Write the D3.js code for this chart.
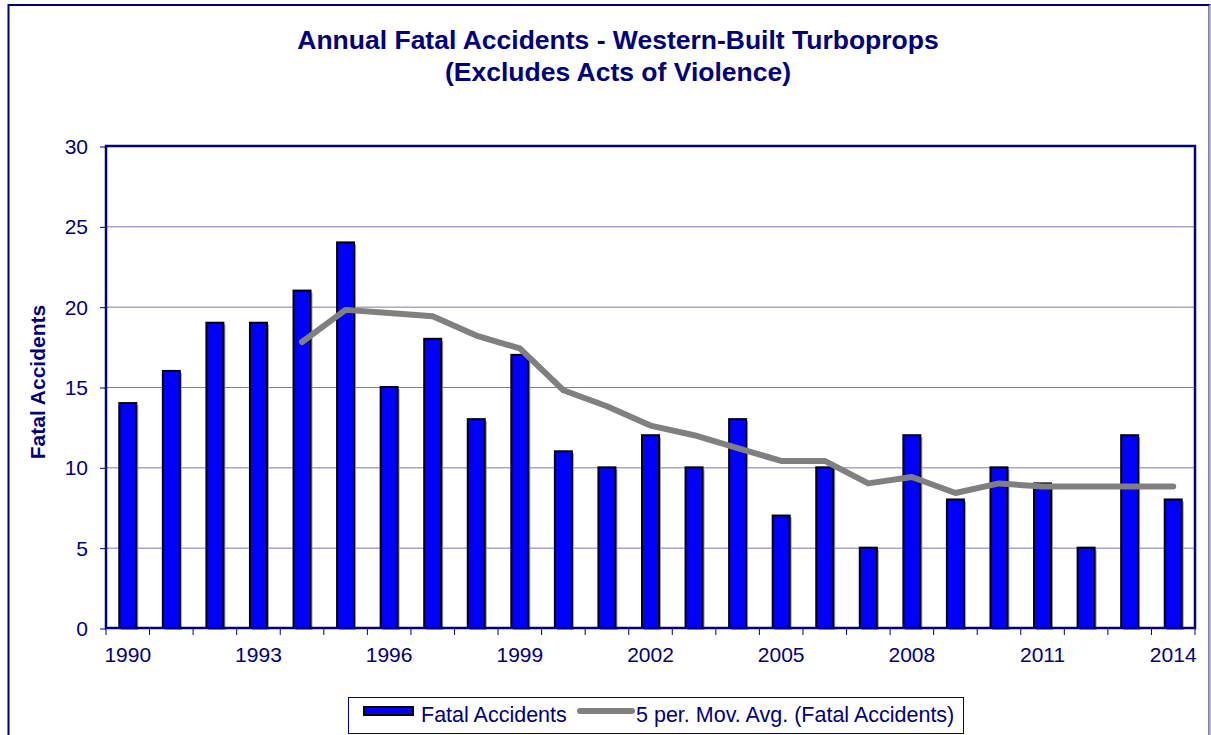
<!DOCTYPE html>
<html>
<head>
<meta charset="utf-8">
<script src="https://cdn.jsdelivr.net/npm/d3@7"></script>
<style>
  body { margin: 0; background: #fff; }
  text { font-family: Arial, "Liberation Sans", sans-serif; fill: #000080; }
</style>
</head>
<body>
<svg id="chart"></svg>
<script>
// chart data
const years = [1990, 1991, 1992, 1993, 1994, 1995, 1996, 1997, 1998, 1999, 2000, 2001, 2002,
    2003, 2004, 2005, 2006, 2007, 2008, 2009, 2010, 2011, 2012, 2013, 2014];
const fatalAccidents = [14, 16, 19, 19, 21, 24, 15, 18, 13, 17, 11, 10, 12,
    10, 13, 7, 10, 5, 12, 8, 10, 9, 5, 12, 8];
// 5 period moving average, starts at 1994
const movAvgYears = [1994, 1995, 1996, 1997, 1998, 1999, 2000, 2001, 2002, 2003, 2004,
    2005, 2006, 2007, 2008, 2009, 2010, 2011, 2012, 2013, 2014];
const movAvg = [17.8, 19.8, 19.6, 19.4, 18.2, 17.4, 14.8, 13.8, 12.6, 12.0, 11.2,
    10.4, 10.4, 9.0, 9.4, 8.4, 9.0, 8.8, 8.8, 8.8, 8.8];
const yTicks = [0, 5, 10, 15, 20, 25, 30];
const xLabelYears = [1990, 1993, 1996, 1999, 2002, 2005, 2008, 2011, 2014];

const width = 1211;
const height = 735;
const navy = "#000080";

const plot = { left: 106, right: 1195, top: 146, bottom: 628 };

const svg = d3.select("#chart").attr("width", width).attr("height", height);

// outer chart border
svg.append("rect")
    .attr("x", 8.5).attr("y", 5)
    .attr("width", 1201).attr("height", 740)
    .attr("fill", "#fff")
    .attr("stroke", navy)
    .attr("stroke-width", 2);
svg.append("line")
    .attr("x1", 1210).attr("x2", 1210).attr("y1", 5).attr("y2", height)
    .attr("stroke", "#d0d4e0").attr("stroke-width", 1.5);

const x = d3.scaleBand()
    .domain(years)
    .range([plot.left, plot.right])
    .paddingInner(0)
    .paddingOuter(0);

const y = d3.scaleLinear()
    .domain([0, 30])
    .range([plot.bottom, plot.top]);

// gridlines
svg.append("g").attr("class", "grid")
    .selectAll("line")
    .data(yTicks.filter(function (d) { return d > 0 && d < 30; }))
    .enter()
    .append("line")
    .attr("x1", plot.left).attr("x2", plot.right)
    .attr("y1", function (d) { return y(d) + 0.5; })
    .attr("y2", function (d) { return y(d) + 0.5; })
    .attr("stroke", "#7777cc")
    .attr("stroke-width", 1);

// y axis
const yAxis = svg.append("g")
    .attr("transform", "translate(" + plot.left + ",0)")
    .call(d3.axisLeft(y).tickValues(yTicks).tickSize(6).tickPadding(12));
yAxis.select(".domain").remove();
yAxis.selectAll(".tick line").attr("stroke", navy).attr("stroke-width", 1)
    .attr("transform", "translate(0,0.5)");
yAxis.selectAll(".tick text")
    .style("font-size", "21px")
    .style("font-family", "Arial, 'Liberation Sans', sans-serif")
    .attr("fill", navy)
    .attr("dy", "0.36em");

// x axis: ticks on category boundaries
const bounds = years.map(function (d) { return x(d); }).concat([plot.right]);
svg.append("g").attr("class", "xticks")
    .selectAll("line")
    .data(bounds)
    .enter()
    .append("line")
    .attr("x1", function (d) { return d; })
    .attr("x2", function (d) { return d; })
    .attr("y1", plot.bottom)
    .attr("y2", plot.bottom + 7)
    .attr("stroke", navy)
    .attr("stroke-width", 1);

svg.append("g").attr("class", "xlabels")
    .selectAll("text")
    .data(xLabelYears)
    .enter()
    .append("text")
    .attr("x", function (d) { return x(d) + x.bandwidth() / 2; })
    .attr("y", 662)
    .attr("text-anchor", "middle")
    .style("font-size", "21px")
    .text(function (d) { return d; });

// bars (with a small grey shadow)
const barW = 17;
const bars = svg.append("g").attr("class", "bars");
bars.selectAll("rect.shadow")
    .data(fatalAccidents)
    .enter()
    .append("rect")
    .attr("class", "shadow")
    .attr("x", function (d, i) { return x(years[i]) + x.bandwidth() / 2 - barW / 2 + 2; })
    .attr("y", function (d) { return y(d) + 2; })
    .attr("width", barW)
    .attr("height", function (d) { return y(0) - y(d); })
    .attr("fill", "#a0a0a0");
bars.selectAll("rect.bar")
    .data(fatalAccidents)
    .enter()
    .append("rect")
    .attr("class", "bar")
    .attr("x", function (d, i) { return x(years[i]) + x.bandwidth() / 2 - barW / 2; })
    .attr("y", function (d) { return y(d); })
    .attr("width", barW)
    .attr("height", function (d) { return y(0) - y(d); })
    .attr("fill", "#0000ff")
    .attr("stroke", "#000")
    .attr("stroke-width", 2);

// plot area frame
svg.append("rect")
    .attr("x", plot.left).attr("y", plot.top)
    .attr("width", plot.right - plot.left)
    .attr("height", plot.bottom - plot.top)
    .attr("fill", "none")
    .attr("stroke", navy)
    .attr("stroke-width", 2.5);

// moving average line
const line = d3.line()
    .x(function (d, i) { return x(movAvgYears[i]) + x.bandwidth() / 2; })
    .y(function (d) { return y(d); });

svg.append("path")
    .datum(movAvg)
    .attr("fill", "none")
    .attr("stroke", "#808080")
    .attr("stroke-width", 6)
    .attr("stroke-linecap", "round")
    .attr("stroke-linejoin", "round")
    .attr("d", line);

// title
const title = svg.append("text")
    .attr("x", 618)
    .attr("text-anchor", "middle")
    .style("font-size", "26.5px")
    .style("font-weight", "bold");
title.append("tspan").attr("x", 618).attr("y", 49)
    .text("Annual Fatal Accidents - Western-Built Turboprops");
title.append("tspan").attr("x", 618).attr("y", 81)
    .text("(Excludes Acts of Violence)");

// y axis title
svg.append("text")
    .attr("transform", "translate(45,382) rotate(-90)")
    .attr("text-anchor", "middle")
    .style("font-size", "21px")
    .style("font-weight", "bold")
    .text("Fatal Accidents");

// legend
const legend = svg.append("g").attr("class", "legend");
legend.append("rect")
    .attr("x", 348.5).attr("y", 697.5)
    .attr("width", 615).attr("height", 36)
    .attr("fill", "#fff")
    .attr("stroke", navy)
    .attr("stroke-width", 1);
legend.append("rect")
    .attr("x", 364).attr("y", 707)
    .attr("width", 49).attr("height", 8)
    .attr("fill", "#0000ff")
    .attr("stroke", "#000")
    .attr("stroke-width", 2);
legend.append("text")
    .attr("x", 421).attr("y", 722)
    .style("font-size", "21.5px")
    .text("Fatal Accidents");
legend.append("line")
    .attr("x1", 580).attr("x2", 632)
    .attr("y1", 711).attr("y2", 711)
    .attr("stroke", "#808080")
    .attr("stroke-width", 6)
    .attr("stroke-linecap", "round");
legend.append("text")
    .attr("x", 636).attr("y", 722)
    .style("font-size", "21.5px")
    .text("5 per. Mov. Avg. (Fatal Accidents)");
</script>
</body>
</html>
